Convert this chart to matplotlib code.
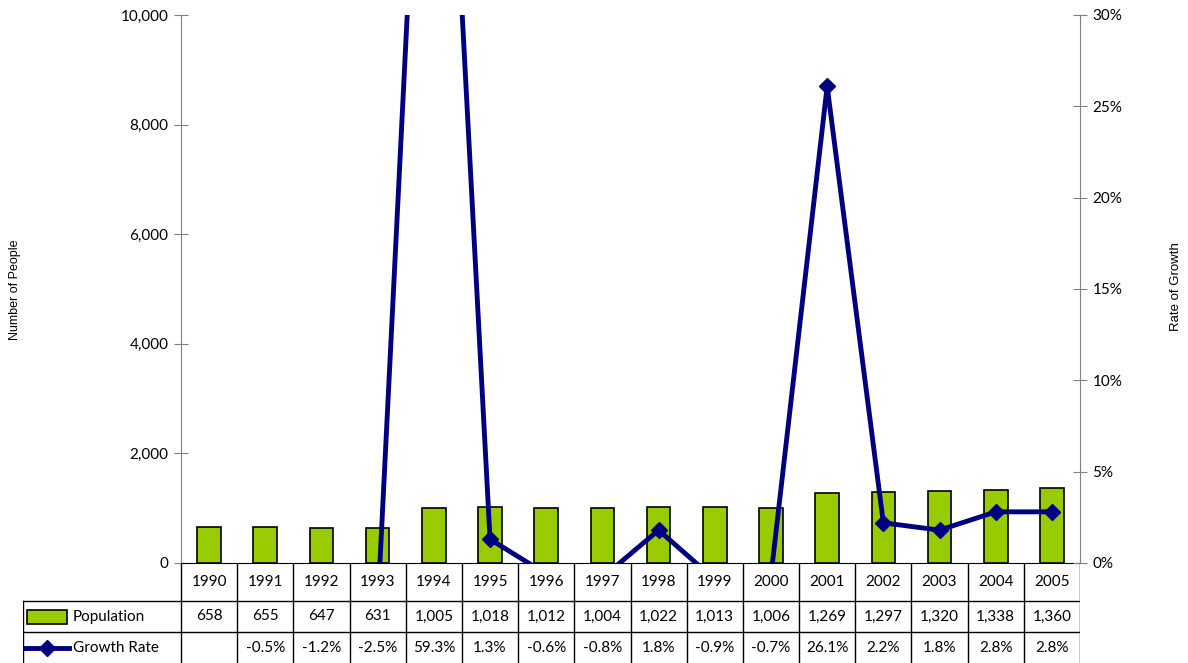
import matplotlib
matplotlib.use('agg')
import matplotlib.pyplot as plt
from matplotlib.patches import Rectangle
from matplotlib.lines import Line2D
from matplotlib.ticker import FuncFormatter

years = ['1990', '1991', '1992', '1993', '1994', '1995', '1996', '1997',
         '1998', '1999', '2000', '2001', '2002', '2003', '2004', '2005']
population = [658, 655, 647, 631, 1005, 1018, 1012, 1004, 1022, 1013, 1006,
              1269, 1297, 1320, 1338, 1360]
growth = [None, -0.5, -1.2, -2.5, 59.3, 1.3, -0.6, -0.8, 1.8, -0.9, -0.7,
          26.1, 2.2, 1.8, 2.8, 2.8]

green = '#99CC00'
navy = '#000080'
plt.rcParams['font.family'] = ['Lato', 'DejaVu Sans']

W, H = 1188, 663
fig = plt.figure(figsize=(W / 100, H / 100), dpi=100)

# main plot area (pixel box 181..1080 x 15..563)
ax = fig.add_axes([181 / W, 1 - 563 / H, (1080 - 181) / W, (563 - 15) / H])
x = list(range(len(years)))
ax.bar(x, population, width=0.42, color=green, edgecolor='black', linewidth=1.2, zorder=2)
ax.set_xlim(-0.5, len(years) - 0.5)
ax.set_ylim(0, 10000)
ax.set_yticks(range(0, 10001, 2000))
ax.yaxis.set_major_formatter(FuncFormatter(lambda v, p: f'{int(v):,}'))
ax.set_xticks([])
ax.spines['top'].set_visible(False)
ax.spines['right'].set_visible(False)
ax.spines['left'].set_color('#808080')
ax.spines['bottom'].set_color('black')
ax.tick_params(axis='y', direction='inout', length=10, color='#808080', labelsize=11, pad=4)

ax2 = ax.twinx()
gx = [i for i, g in zip(x, growth) if g is not None]
gy = [g for g in growth if g is not None]
ax2.plot(gx, gy, color=navy, linewidth=3.5, marker='D', markersize=8, zorder=3)
ax2.set_ylim(0, 30)
ax2.set_yticks(range(0, 31, 5))
ax2.yaxis.set_major_formatter(FuncFormatter(lambda v, p: f'{int(v)}%'))
for s in ['top', 'left', 'bottom']:
    ax2.spines[s].set_visible(False)
ax2.spines['right'].set_color('#808080')
ax2.tick_params(axis='y', direction='inout', length=10, color='#808080', labelsize=11, pad=4)

# axis titles
fig.text(15 / W, 1 - 290 / H, 'Number of People', rotation=90, ha='center', va='center',
         family=['Liberation Sans'], fontsize=9)
fig.text(1176 / W, 1 - 287 / H, 'Rate of Growth', rotation=90, ha='center', va='center',
         family=['Liberation Sans'], fontsize=9.5)

# data table below the plot
tx0 = 23
tax = fig.add_axes([tx0 / W, 0, (1080 - tx0) / W, 100 / H])
cw = (1080 - 181) / len(years)
left = -0.5 - (181 - tx0) / cw
tax.set_xlim(left, len(years) - 0.5)
tax.set_ylim(100, 0)
tax.axis('off')
rows = [0, 38, 69, 100]
lc = 'black'
lw = 1.0
tax.plot([left, len(years) - 0.5], [rows[1]] * 2, color=lc, lw=lw)
tax.plot([left, len(years) - 0.5], [rows[2]] * 2, color=lc, lw=lw)
tax.plot([left, left], [rows[1], rows[3]], color=lc, lw=lw)
for i in range(len(years) + 1):
    tax.plot([i - 0.5, i - 0.5], [rows[0], rows[3]], color=lc, lw=lw)

fs = 11
for i, yr in enumerate(years):
    tax.text(i, (rows[0] + rows[1]) / 2, yr, ha='center', va='center', fontsize=fs)
    tax.text(i, (rows[1] + rows[2]) / 2, f'{population[i]:,}', ha='center', va='center', fontsize=fs)
    if growth[i] is not None:
        tax.text(i, (rows[2] + rows[3]) / 2, f'{growth[i]:.1f}%', ha='center', va='center', fontsize=fs)

# legend keys in the label column
px = lambda p: left + (p - tx0) / cw
tax.add_patch(Rectangle((px(27), 47), px(67) - px(27), 14, facecolor=green,
                        edgecolor='black', linewidth=1.2))
tax.text(px(73), (rows[1] + rows[2]) / 2, 'Population', ha='left', va='center', fontsize=fs)
tax.add_line(Line2D([px(25), px(69)], [85, 85], color=navy, lw=3.5))
tax.add_line(Line2D([px(47)], [85], color=navy, marker='D', markersize=8))
tax.text(px(73), (rows[2] + rows[3]) / 2, 'Growth Rate', ha='left', va='center', fontsize=fs)

fig.savefig('out.png', dpi=100)
